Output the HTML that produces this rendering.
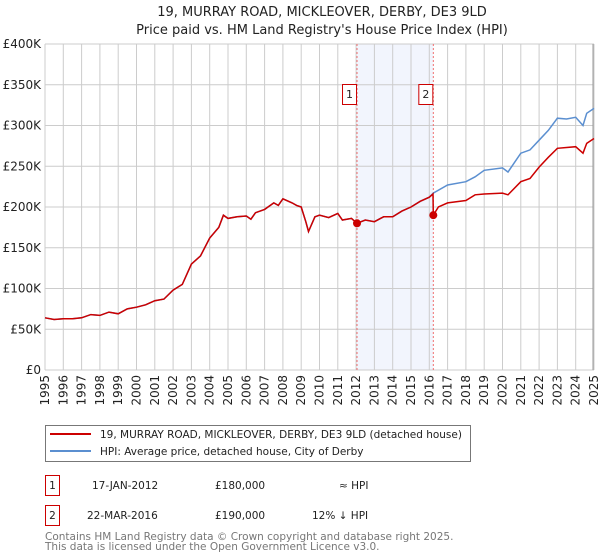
<!DOCTYPE html>
<html><head><meta charset="utf-8"><style>
body{margin:0;background:#fff;}
svg{display:block;font-family:"DejaVu Sans","Liberation Sans",sans-serif;}
</style></head><body>
<svg id="chart" width="600" height="560" viewBox="0 0 600 560">
<text x="322" y="16" text-anchor="middle" font-size="13" fill="#222">19, MURRAY ROAD, MICKLEOVER, DERBY, DE3 9LD</text>
<text x="322" y="34" text-anchor="middle" font-size="13" fill="#222">Price paid vs. HM Land Registry's House Price Index (HPI)</text>
<g id="grid"></g><g id="marks"></g><g id="axes"></g>
<g>
<rect x="45.5" y="425.5" width="425" height="36" fill="#fff" stroke="#777"/>
<line x1="50" y1="434" x2="91" y2="434" stroke="#cc0000" stroke-width="2"/>
<text x="100" y="438" font-size="10.5" fill="#222">19, MURRAY ROAD, MICKLEOVER, DERBY, DE3 9LD (detached house)</text>
<line x1="50" y1="451" x2="91" y2="451" stroke="#5b8fd0" stroke-width="2"/>
<text x="100" y="455" font-size="10.5" fill="#222">HPI: Average price, detached house, City of Derby</text>
</g>
<g font-size="10.5" fill="#222">
<rect x="45.5" y="475.5" width="14" height="20" fill="#fff" stroke="#cc0000"/>
<text x="52.5" y="489" text-anchor="middle">1</text>
<text x="92" y="489">17-JAN-2012</text><text x="215" y="489">£180,000</text><text x="339" y="489">≈ HPI</text>
<rect x="45.5" y="505.5" width="14" height="20" fill="#fff" stroke="#cc0000"/>
<text x="52.5" y="519" text-anchor="middle">2</text>
<text x="87" y="519">22-MAR-2016</text><text x="215" y="519">£190,000</text><text x="312" y="519">12% ↓ HPI</text>
</g>
<text x="45" y="540" font-size="10.5" fill="#777">Contains HM Land Registry data © Crown copyright and database right 2025.</text>
<text x="45" y="550" font-size="10.5" fill="#777">This data is licensed under the Open Government Licence v3.0.</text>
</svg>
<script>
const hpiDates=[1995,1995.5,1996,1996.5,1997,1997.5,1998,1998.5,1999,1999.5,2000,2000.5,2001,2001.5,2002,2002.5,2003,2003.5,2004,2004.5,2004.75,2005,2005.5,2006,2006.25,2006.5,2007,2007.5,2007.75,2008,2008.5,2008.75,2009,2009.25,2009.4,2009.75,2010,2010.5,2011,2011.25,2011.75,2012.05,2012.5,2013,2013.5,2014,2014.5,2015,2015.5,2016,2016.22,2017,2018,2018.5,2019,2020,2020.3,2021,2021.5,2022,2022.5,2023,2023.5,2024,2024.4,2024.6,2025];
const hpiValues=[64,62,63,63,64,68,67,71,69,75,77,80,85,87,98,105,130,140,162,175,190,186,188,189,185,193,197,205,202,210,205,202,200,182,170,188,190,187,192,184,186,180,184,182,188,188,195,200,207,212,217,227,231,237,245,248,243,266,270,282,294,309,308,310,300,315,321];
const priceDates=[1995,1995.5,1996,1996.5,1997,1997.5,1998,1998.5,1999,1999.5,2000,2000.5,2001,2001.5,2002,2002.5,2003,2003.5,2004,2004.5,2004.75,2005,2005.5,2006,2006.25,2006.5,2007,2007.5,2007.75,2008,2008.5,2008.75,2009,2009.25,2009.4,2009.75,2010,2010.5,2011,2011.25,2011.75,2012.05,2012.5,2013,2013.5,2014,2014.5,2015,2015.5,2016,2016.2,2016.22,2016.5,2017,2018,2018.5,2019,2020,2020.3,2021,2021.5,2022,2022.5,2023,2024,2024.4,2024.6,2025];
const priceValues=[64,62,63,63,64,68,67,71,69,75,77,80,85,87,98,105,130,140,162,175,190,186,188,189,185,193,197,205,202,210,205,202,200,182,170,188,190,187,192,184,186,180,184,182,188,188,195,200,207,212,216,190,200,205,208,215,216,217,215,231,235,249,261,272,274,266,278,284];
const saleDates=[2012.05,2016.22];
const saleValues=[180,190];
const saleLabels=["1","2"];
const yTicks=[0,50,100,150,200,250,300,350,400];
const yTickLabels=["£0","£50K","£100K","£150K","£200K","£250K","£300K","£350K","£400K"];
const xYears=[1995,1996,1997,1998,1999,2000,2001,2002,2003,2004,2005,2006,2007,2008,2009,2010,2011,2012,2013,2014,2015,2016,2017,2018,2019,2020,2021,2022,2023,2024,2025];

const NS="http://www.w3.org/2000/svg";
const L=45,R=594,T=44,B=370;
const x=d=>L+(d-1995)/30*(R-L);
const y=v=>B-v/400*(B-T);
function mk(tag,attrs,parent){const e=document.createElementNS(NS,tag);for(const k in attrs)e.setAttribute(k,attrs[k]);parent.appendChild(e);return e;}
const grid=document.getElementById('grid'),marks=document.getElementById('marks'),axes=document.getElementById('axes');
const band=mk('rect',{x:x(saleDates[0]),y:T,width:x(saleDates[1])-x(saleDates[0]),height:B-T,fill:'#f2f5fd'},grid);


yTicks.forEach((t,i)=>{
 const gl=mk('line',{x1:L,x2:R,y1:y(t),y2:y(t),stroke:'#cccccc','stroke-width':1},grid);
 
 
 const tl=mk('text',{x:L-4,y:y(t)+4,'text-anchor':'end','font-size':12,fill:'#222'},axes);
 tl.textContent=yTickLabels[i];
 
 
});
xYears.forEach(yr=>{
 const gl=mk('line',{x1:x(yr),x2:x(yr),y1:T,y2:B,stroke:'#cccccc','stroke-width':1},grid);
 
 
 const tl=mk('text',{x:0,y:0,'text-anchor':'end','font-size':12,fill:'#222',transform:`translate(${x(yr)+4},${B+5}) rotate(-90)`},axes);
 tl.textContent=yr;
 
 
});
const edge=mk('line',{x1:R-1,x2:R-1,y1:T,y2:B,stroke:'#999','stroke-width':1},grid);


saleDates.forEach((d,i)=>{
 const vl=mk('line',{x1:x(d),x2:x(d),y1:T,y2:B,stroke:'#f07070','stroke-width':1,'stroke-dasharray':'2,2'},grid);
 
 
});
function path(ds,vs){return ds.map((d,i)=>(i?'L':'M')+x(d).toFixed(1)+','+y(vs[i]).toFixed(1)).join('');}
const hp=mk('path',{d:path(hpiDates,hpiValues),fill:'none',stroke:'#5b8fd0','stroke-width':1.5},marks);


const pp=mk('path',{d:path(priceDates,priceValues),fill:'none',stroke:'#cc0000','stroke-width':1.5},marks);


saleDates.forEach((d,i)=>{
 const c=mk('circle',{cx:x(d),cy:y(saleValues[i]),r:4,fill:'#cc0000'},marks);
 
 
 const g=mk('g',{},marks);
 
 
 mk('rect',{x:x(d)-14.5,y:84.5,width:14,height:20,fill:'#fff',stroke:'#cc0000'},g);
 const t=mk('text',{x:x(d)-7.5,y:98,'text-anchor':'middle','font-size':11,fill:'#222'},g);
 t.textContent=saleLabels[i];
});
</script>
</body></html>
